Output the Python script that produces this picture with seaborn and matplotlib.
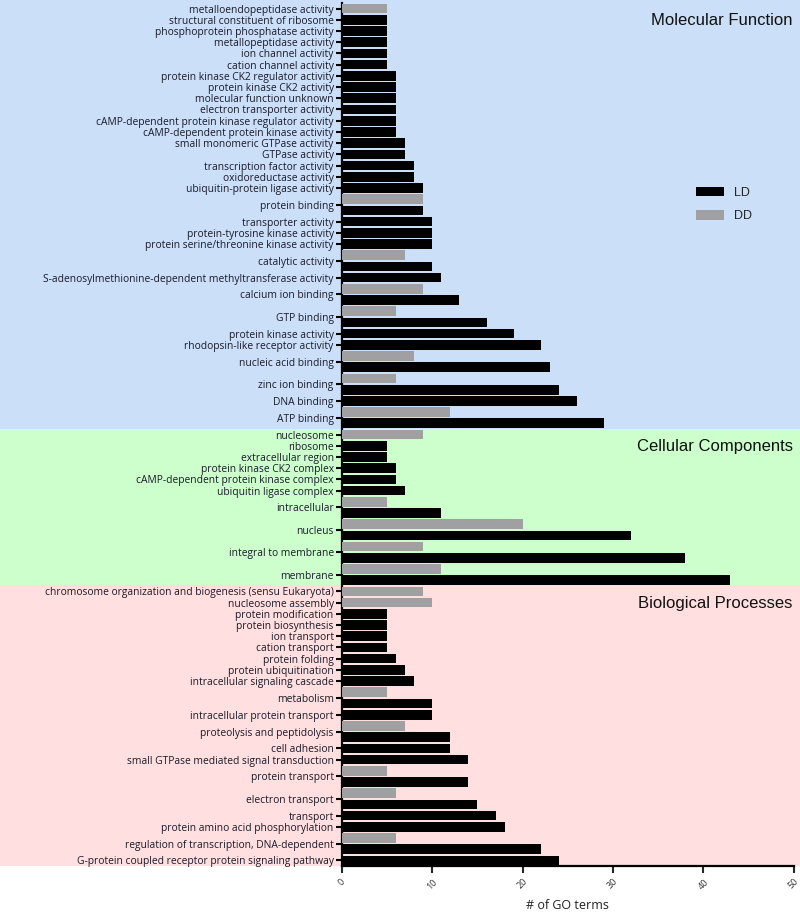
import numpy as np
import pandas as pd
import seaborn as sns
import matplotlib.pyplot as plt
from matplotlib.patches import Rectangle
from matplotlib.transforms import blended_transform_factory

nan = np.nan

# Molecular Function
mf_terms = ["metalloendopeptidase activity", "structural constituent of ribosome",
            "phosphoprotein phosphatase activity", "metallopeptidase activity",
            "ion channel activity", "cation channel activity",
            "protein kinase CK2 regulator activity", "protein kinase CK2 activity",
            "molecular function unknown", "electron transporter activity",
            "cAMP-dependent protein kinase regulator activity",
            "cAMP-dependent protein kinase activity", "small monomeric GTPase activity",
            "GTPase activity", "transcription factor activity", "oxidoreductase activity",
            "ubiquitin-protein ligase activity", "protein binding", "transporter activity",
            "protein-tyrosine kinase activity", "protein serine/threonine kinase activity",
            "catalytic activity",
            "S-adenosylmethionine-dependent methyltransferase activity",
            "calcium ion binding", "GTP binding", "protein kinase activity",
            "rhodopsin-like receptor activity", "nucleic acid binding", "zinc ion binding",
            "DNA binding", "ATP binding"]
mf_ld = [nan, 5, 5, 5, 5, 5, 6, 6, 6, 6, 6, 6, 7, 7, 8, 8, 9, 9, 10, 10, 10, 10, 11,
         13, 16, 19, 22, 23, 24, 26, 29]
mf_dd = [5, nan, nan, nan, nan, nan, nan, nan, nan, nan, nan, nan, nan, nan, nan, nan,
         nan, 9, nan, nan, nan, 7, nan, 9, 6, nan, nan, 8, 6, nan, 12]

# Cellular Components
cc_terms = ["nucleosome", "ribosome", "extracellular region", "protein kinase CK2 complex",
            "cAMP-dependent protein kinase complex", "ubiquitin ligase complex",
            "intracellular", "nucleus", "integral to membrane", "membrane"]
cc_ld = [nan, 5, 5, 6, 6, 7, 11, 32, 38, 43]
cc_dd = [9, nan, nan, nan, nan, nan, 5, 20, 9, 11]

# Biological Processes
bp_terms = ["chromosome organization and biogenesis (sensu Eukaryota)",
            "nucleosome assembly", "protein modification", "protein biosynthesis",
            "ion transport", "cation transport", "protein folding",
            "protein ubiquitination", "intracellular signaling cascade", "metabolism",
            "intracellular protein transport", "proteolysis and peptidolysis",
            "cell adhesion", "small GTPase mediated signal transduction",
            "protein transport", "electron transport", "transport",
            "protein amino acid phosphorylation",
            "regulation of transcription, DNA-dependent",
            "G-protein coupled receptor protein signaling pathway"]
bp_ld = [nan, nan, 5, 5, 5, 5, 6, 7, 8, 10, 10, 12, 12, 14, 14, 15, 17, 18, 22, 24]
bp_dd = [9, 10, nan, nan, nan, nan, nan, nan, nan, 5, nan, 7, nan, nan, 5, 6, nan, nan,
         6, nan]

sections = [("Molecular Function", mf_terms, mf_ld, mf_dd, "#cbdff8"),
            ("Cellular Components", cc_terms, cc_ld, cc_dd, "#ccffcc"),
            ("Biological Processes", bp_terms, bp_ld, bp_dd, "#ffdfdf")]

# one slot per bar, DD above LD when a term has both
rows, ticks, labels, spans = [], [], [], []
slot = 0
for name, terms, ld, dd, color in sections:
    start = slot
    for term, l, d in zip(terms, ld, dd):
        first = slot
        for series, v in (("DD", d), ("LD", l)):
            if not np.isnan(v):
                rows.append({"slot": str(slot), "count": v, "series": series})
                slot += 1
        ticks.append((first + slot - 1) / 2)
        labels.append(term)
    spans.append((name, start - 0.5, slot - 0.5, color))
df = pd.DataFrame(rows)

sns.set_style("ticks")
plt.rcParams['font.family'] = ['Open Sans', 'DejaVu Sans']

fig = plt.figure(figsize=(8, 9.17), dpi=100)
ax = fig.add_axes([0.4275, 0.0556, 0.5645, 0.9411])
ax.set_facecolor('none')

sns.barplot(data=df, x="count", y="slot", hue="series", hue_order=["LD", "DD"],
            order=[str(i) for i in range(slot)],
            palette={"LD": "black", "DD": "#a09fa4"}, dodge=False, width=0.86,
            orient="h", ax=ax, zorder=3, linewidth=0, edgecolor='none')

# coloured bands behind each section, across the whole figure width
trans = blended_transform_factory(fig.transFigure, ax.transData)
for i, (name, y0, y1, color) in enumerate(spans):
    top = y0 - 3 if i == 0 else y0
    ax.add_patch(Rectangle((0, top), 1, y1 - top, transform=trans, facecolor=color,
                           edgecolor='none', zorder=-10, clip_on=False))
    ax.text(0.991, y0 + 1.6, name, transform=trans, ha='right', va='center',
            fontsize=12, family='Liberation Sans', color='#111111')

ax.set_yticks(ticks, labels)
ax.set_ylim(slot - 0.5, -0.5)
ax.set_xlim(0, 50)
ax.set_xticks(range(0, 51, 10))
ax.tick_params(axis='y', labelsize=7.4, length=4, width=1.5, pad=2, colors='black',
               labelcolor='#1a1a2a')
ax.tick_params(axis='x', labelsize=6.5, length=5, width=1.5, pad=3, labelrotation=45,
               labelcolor='#333333')
ax.set_ylabel('')
ax.set_xlabel('# of GO terms', fontsize=9, color='#222222', labelpad=6)
sns.despine(ax=ax)
for s in ('left', 'bottom'):
    ax.spines[s].set_linewidth(1.6)
    ax.spines[s].set_color('black')

handles, leg_labels = ax.get_legend_handles_labels()
ax.legend(handles, leg_labels, loc='upper left', bbox_to_anchor=(0.76, 0.80),
          frameon=False, prop={'family': 'Liberation Sans', 'size': 9},
          handlelength=2.2, handleheight=0.8, labelspacing=0.9)

fig.savefig('out.png', dpi=100)
